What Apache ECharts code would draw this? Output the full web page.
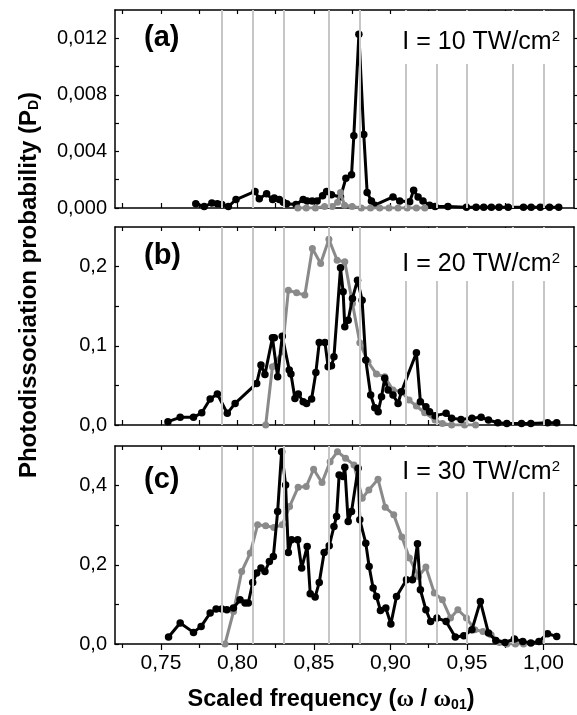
<!DOCTYPE html>
<html>
<head>
<meta charset="utf-8">
<script src="https://cdn.jsdelivr.net/npm/echarts@6/dist/echarts.min.js"></script>
<style>
  html, body { margin: 0; padding: 0; background: #fff; }
  #chart { width: 577px; height: 715px; }
</style>
</head>
<body>
<div id="chart"></div>
<script>
// x axis ticks (scaled frequency)
const xMajor = [0.75, 0.8, 0.85, 0.9, 0.95, 1.0];
const xMinor = [0.725, 0.775, 0.825, 0.875, 0.925, 0.975];
// grey vertical lines (resonance positions)
const resonances = [0.7867, 0.8104, 0.8341, 0.8578, 0.8815, 0.9052, 0.929, 0.9527, 0.9763, 1.0];

const panelTags = ["(a)", "(b)", "(c)"];
const intensities = ["I = 10 TW/cm", "I = 20 TW/cm", "I = 30 TW/cm"];
const yMax = [0.014, 0.25, 0.5];
const yDecimals = [3, 1, 1];
const yLabelValues = [
  [0, 0.004, 0.008, 0.012],
  [0, 0.1, 0.2],
  [0, 0.2, 0.4],
];
const yTickValues = [
  [0, 0.002, 0.004, 0.006, 0.008, 0.01, 0.012],
  [0, 0.05, 0.1, 0.15, 0.2],
  [0, 0.1, 0.2, 0.3, 0.4],
];

// (a) I = 10 TW/cm2
const blackA = [
  [0.7728, 0.0003], [0.7783, 0.0001], [0.7833, 0.00035], [0.7869, 0.0003], [0.7898, 0.00025],
  [0.7941, 0.0001], [0.7991, 0.0006], [0.8115, 0.00117], [0.8143, 0.00066], [0.8191, 0.001],
  [0.823, 0.0006], [0.8241, 0.0007], [0.8274, 0.0006], [0.83, 0.0004], [0.8322, 0.0003],
  [0.8383, 0.00025], [0.843, 0.0006], [0.8456, 0.0005], [0.8489, 0.0005], [0.8521, 0.0005],
  [0.8557, 0.00087], [0.8583, 0.00117], [0.8615, 0.00094], [0.8674, 0.00078], [0.8709, 0.0021],
  [0.8746, 0.00235], [0.8761, 0.0051], [0.8794, 0.01228], [0.8826, 0.0052], [0.8848, 0.0011],
  [0.8876, 0.0005], [0.8898, 0.0002], [0.9017, 0.00078], [0.9061, 0.0005], [0.9126, 0.00045],
  [0.9152, 0.00125], [0.9181, 0.00078], [0.9213, 0.0005], [0.9256, 0.0002], [0.9292, 0.0001],
  [0.9376, 0.0001], [0.9497, 0.00005], [0.956, 0.00005], [0.961, 0.00005], [0.966, 0.00005],
  [0.971, 0.00005], [0.977, 0.00005], [0.987, 0.00005], [0.992, 0.00005], [0.998, 0.00005],
  [1.004, 0.00005], [1.01, 0.00005],
];
const greyA = [
  [0.8395, 0], [0.845, 0], [0.851, 0], [0.857, 0.0001], [0.862, 0.0001], [0.8655, 0.0004],
  [0.8674, 0.0011], [0.87, 0.0002], [0.875, 0.0001], [0.881, 0], [0.887, 0], [0.893, 0],
  [0.899, 0], [0.905, 0], [0.911, 0], [0.917, 0], [0.9225, 0],
];

// (b) I = 20 TW/cm2
const blackB = [
  [0.7546, 0.0042], [0.7626, 0.0097], [0.7713, 0.0097], [0.7767, 0.0155], [0.7822, 0.0328],
  [0.7869, 0.0391], [0.7934, 0.0147], [0.7985, 0.0273], [0.8126, 0.0525], [0.8154, 0.0757],
  [0.818, 0.0639], [0.8229, 0.1101], [0.8241, 0.1101], [0.8263, 0.0609], [0.8293, 0.1122],
  [0.8339, 0.0694], [0.835, 0.0643], [0.8376, 0.0336], [0.8398, 0.0391], [0.843, 0.0294],
  [0.8452, 0.0273], [0.8485, 0.0328], [0.8513, 0.0664], [0.8535, 0.1043], [0.8572, 0.1043],
  [0.8593, 0.0735], [0.8615, 0.0748], [0.8631, 0.0861], [0.8674, 0.1984], [0.8691, 0.1681],
  [0.8702, 0.124], [0.8724, 0.1324], [0.8752, 0.1598], [0.8785, 0.1829], [0.8815, 0.1576],
  [0.8839, 0.082], [0.8871, 0.0378], [0.8898, 0.0218], [0.892, 0.0168], [0.8942, 0.0357],
  [0.8963, 0.0589], [0.8985, 0.0441], [0.9017, 0.0378], [0.905, 0.0273], [0.9072, 0.042],
  [0.917, 0.0912], [0.9196, 0.0294], [0.9232, 0.023], [0.9256, 0.0168], [0.9292, 0.0118],
  [0.9364, 0.0147], [0.94, 0.0084], [0.9461, 0.0071], [0.9533, 0.0084], [0.9593, 0.0097],
  [0.9641, 0.0063], [0.9702, 0.0029], [0.9761, 0.002], [0.9857, 0.002], [0.9918, 0.002],
  [1.0027, 0.0029], [1.0087, 0.0029],
];
const greyB = [
  [0.8185, 0], [0.8229, 0.0735], [0.8293, 0.0924], [0.8333, 0.17], [0.8387, 0.167],
  [0.8441, 0.164], [0.849, 0.2228], [0.8544, 0.204], [0.8598, 0.2345], [0.8652, 0.208],
  [0.8702, 0.206], [0.8752, 0.1535], [0.88, 0.1038], [0.8854, 0.0798], [0.8909, 0.0643],
  [0.8963, 0.0609], [0.9017, 0.0441], [0.9072, 0.042], [0.9122, 0.0315], [0.917, 0.024],
  [0.9224, 0.0155], [0.9292, 0.0063], [0.934, 0.002], [0.94, 0], [0.9485, 0], [0.9557, 0],
];

// (c) I = 30 TW/cm2
const blackC = [
  [0.755, 0.0177], [0.7626, 0.053], [0.7713, 0.0293], [0.7763, 0.0444], [0.7822, 0.0782],
  [0.7861, 0.0883], [0.7898, 0.0883], [0.7931, 0.0865], [0.7974, 0.0908], [0.8017, 0.1117],
  [0.805, 0.1034], [0.8071, 0.1034], [0.81, 0.1554], [0.8126, 0.179], [0.8154, 0.1917],
  [0.818, 0.1831], [0.8209, 0.2083], [0.8235, 0.2209], [0.8263, 0.3344], [0.8289, 0.4857],
  [0.8315, 0.4018], [0.8333, 0.231], [0.8354, 0.263], [0.8394, 0.263], [0.842, 0.1917],
  [0.8456, 0.2461], [0.8476, 0.1269], [0.8508, 0.1185], [0.8535, 0.1554], [0.8567, 0.231],
  [0.86, 0.2479], [0.8631, 0.2966], [0.8648, 0.3218], [0.8665, 0.427], [0.869, 0.4227],
  [0.8702, 0.4464], [0.8724, 0.3092], [0.8746, 0.3344], [0.8789, 0.4439], [0.88, 0.3135],
  [0.8839, 0.2547], [0.8861, 0.1957], [0.8887, 0.1412], [0.8909, 0.12], [0.8935, 0.0847],
  [0.897, 0.0908], [0.9003, 0.0504], [0.904, 0.12], [0.9105, 0.1622], [0.9144, 0.1622],
  [0.9177, 0.253], [0.9196, 0.137], [0.9232, 0.0865], [0.9263, 0.057], [0.9304, 0.0656],
  [0.9364, 0.057], [0.9424, 0.0177], [0.948, 0.0209], [0.9533, 0.036], [0.9588, 0.1075],
  [0.9641, 0.0277], [0.9689, 0.0091], [0.9749, 0.004], [0.981, 0.0126], [0.9865, 0.0066],
  [0.9918, 0.0025], [0.9971, 0.0066], [1.0027, 0.026], [1.0087, 0.0192],
];
const greyC = [
  [0.7919, 0], [0.7975, 0.0822], [0.8028, 0.1831], [0.8084, 0.2295], [0.8132, 0.3009],
  [0.8185, 0.2984], [0.8238, 0.2941], [0.8293, 0.3009], [0.8341, 0.347], [0.8397, 0.396],
  [0.845, 0.3975], [0.8498, 0.4413], [0.8553, 0.4076], [0.8606, 0.4605], [0.8654, 0.4857],
  [0.8707, 0.4691], [0.8762, 0.4522], [0.8816, 0.3682], [0.8859, 0.3891], [0.8919, 0.4161],
  [0.8966, 0.3455], [0.9022, 0.3261], [0.9075, 0.2699], [0.9124, 0.2169], [0.9184, 0.1705],
  [0.9232, 0.1942], [0.9287, 0.1286], [0.934, 0.1117], [0.9393, 0.0656], [0.9441, 0.0865],
  [0.9497, 0.0656], [0.9552, 0.036], [0.9605, 0.0318], [0.9658, 0.0235], [0.9713, 0.004],
  [0.9761, 0], [0.9817, 0], [0.987, 0],
];

const blackSets = [blackA, blackB, blackC];
const greySets = [greyA, greyB, greyC];

const FONT = "Liberation Sans, Arial, sans-serif";
const gridTops = [10, 227, 446];
const gridHeight = 198;
// label box layout per panel: [top padding, bottom padding]
const boxPad = [[18, 9], [23, 4], [12, 7]];
const tagTops = [23, 241, 465];

const chart = echarts.init(document.getElementById("chart"), null, { renderer: "canvas" });

const grids = [];
const xAxes = [];
const yAxes = [];
const series = [];
const titles = [];
const frameLine = { show: true, onZero: false, lineStyle: { color: "#000", width: 1.5 } };

for (let i = 0; i < 3; i++) {
  grids.push({ left: 115, right: 3, top: gridTops[i], height: gridHeight });

  // bottom axis, major ticks + labels
  xAxes.push({
    gridIndex: i, type: "value", position: "bottom", min: 0.72, max: 1.02,
    axisLine: frameLine,
    axisTick: { show: true, inside: i < 2, length: i < 2 ? 5 : 6, customValues: xMajor,
      lineStyle: { color: "#000", width: 1.2 } },
    axisLabel: { show: i === 2, customValues: xMajor, color: "#000", fontSize: 21,
      fontFamily: FONT, margin: 9,
      formatter: (v) => v.toFixed(2).replace(".", ",") },
    splitLine: { show: false },
  });
  // bottom axis, minor ticks
  xAxes.push({
    gridIndex: i, type: "value", position: "bottom", min: 0.72, max: 1.02,
    axisLine: { show: false },
    axisTick: { show: true, inside: i < 2, length: i < 2 ? 5 : 4, customValues: xMinor,
      lineStyle: { color: "#000", width: 1.2 } },
    axisLabel: { show: false },
    splitLine: { show: false },
  });
  // top frame
  xAxes.push({
    gridIndex: i, type: "value", position: "top", min: 0.72, max: 1.02,
    axisLine: frameLine,
    axisTick: { show: true, inside: true, length: 4, customValues: xMajor.concat(xMinor),
      lineStyle: { color: "#000", width: 1.2 } },
    axisLabel: { show: false },
    splitLine: { show: false },
  });

  yAxes.push({
    gridIndex: i, type: "value", min: 0, max: yMax[i],
    axisLine: frameLine,
    axisTick: { show: true, inside: true, length: 4, customValues: yTickValues[i],
      lineStyle: { color: "#000", width: 1.2 } },
    axisLabel: { customValues: yLabelValues[i], color: "#000", fontSize: 20, fontFamily: FONT,
      margin: 8, formatter: (v) => v.toFixed(yDecimals[i]).replace(".", ",") },
    splitLine: { show: false },
  });
  yAxes.push({
    gridIndex: i, type: "value", position: "right", min: 0, max: yMax[i],
    axisLine: frameLine,
    axisTick: { show: true, inside: false, length: 4, customValues: yTickValues[i],
      lineStyle: { color: "#000", width: 1.2 } },
    axisLabel: { show: false },
    splitLine: { show: false },
  });

  // grey resonance lines
  series.push({
    type: "line", xAxisIndex: 3 * i, yAxisIndex: 2 * i, data: [], z: 1,
    markLine: {
      silent: true, symbol: ["none", "none"], label: { show: false },
      lineStyle: { color: "#c6c6c6", width: 2, type: "solid" },
      emphasis: { disabled: true },
      data: resonances.map((v) => ({ xAxis: v })),
    },
  });
  series.push({
    type: "line", xAxisIndex: 3 * i, yAxisIndex: 2 * i, data: greySets[i], z: i === 0 ? 4 : 3,
    color: "#8a8a8a", symbol: "circle", symbolSize: 7,
    lineStyle: { width: 3, color: "#8a8a8a" },
  });
  series.push({
    type: "line", xAxisIndex: 3 * i, yAxisIndex: 2 * i, data: blackSets[i], z: i === 0 ? 3 : 4,
    color: "#000", symbol: "circle", symbolSize: 7.5,
    lineStyle: { width: 3, color: "#000" },
  });

  titles.push({
    text: panelTags[i], left: 144, top: tagTops[i], padding: 0,
    textStyle: { fontSize: 29, fontWeight: "bold", fontFamily: FONT, color: "#000" },
  });
  titles.push({
    text: "{m|" + intensities[i] + "}{s|2}",
    right: 13, top: gridTops[i] + 1,
    backgroundColor: "#fff",
    padding: [boxPad[i][0], 4, boxPad[i][1], 8],
    z: 10,
    textStyle: {
      fontWeight: "normal",
      rich: {
        m: { fontSize: 25, fontWeight: "normal", fontFamily: FONT, color: "#000", lineHeight: 27 },
        s: { fontSize: 15, fontWeight: "normal", fontFamily: FONT, color: "#000",
          verticalAlign: "top", lineHeight: 15 },
      },
    },
  });
}

chart.setOption({
  animation: false,
  title: titles,
  grid: grids,
  xAxis: xAxes,
  yAxis: yAxes,
  series: series,
  graphic: [
    {
      type: "text", x: 29, y: 285, rotation: Math.PI / 2,
      style: {
        text: "{b|Photodissociation probability (P}{sub|D}{b|)}",
        align: "center", verticalAlign: "middle",
        rich: {
          b: { fontSize: 24, fontWeight: "bold", fontFamily: FONT, fill: "#000" },
          sub: { fontSize: 14, fontWeight: "bold", fontFamily: FONT, fill: "#000",
            verticalAlign: "bottom", padding: [10, 0, 0, 0] },
        },
      },
    },
    {
      type: "text", x: 331, y: 700,
      style: {
        text: "{b|Scaled frequency (}{w|ω}{b| / }{w|ω}{sub|01}{b|)}",
        align: "center", verticalAlign: "middle",
        rich: {
          b: { fontSize: 23.5, fontWeight: "bold", fontFamily: FONT, fill: "#000" },
          w: { fontSize: 24, fontWeight: "bold", fontFamily: "Liberation Serif, serif", fill: "#000" },
          sub: { fontSize: 14, fontWeight: "bold", fontFamily: FONT, fill: "#000",
            verticalAlign: "bottom", padding: [9, 0, 0, 0] },
        },
      },
    },
  ],
});
</script>
</body>
</html>
